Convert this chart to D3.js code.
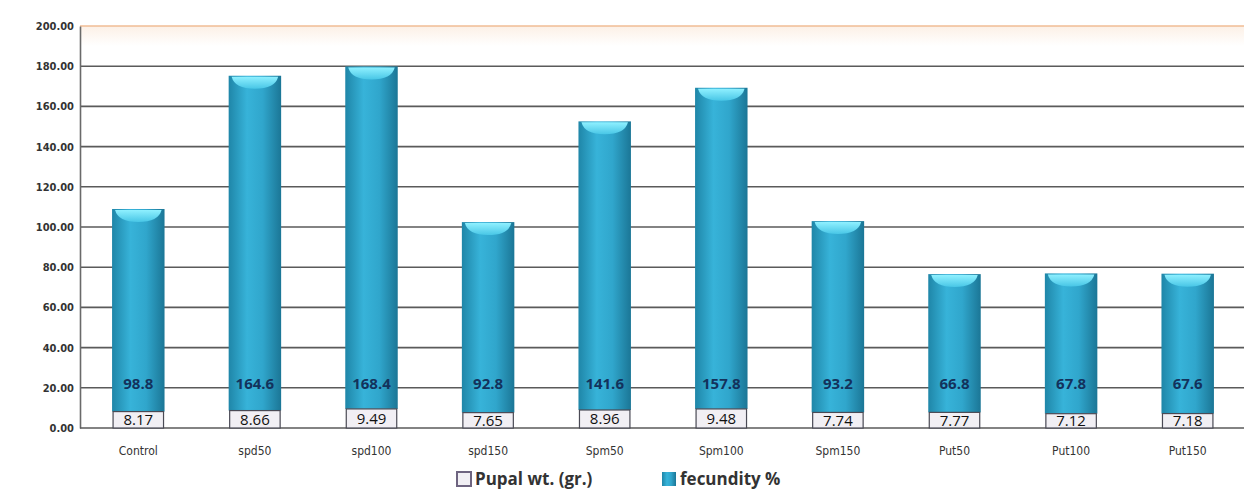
<!DOCTYPE html>
<html>
<head>
<meta charset="utf-8">
<script src="https://cdn.jsdelivr.net/npm/d3@7"></script>
<style>
  body { margin: 0; background: #fff; }
  svg { display: block; }
</style>
</head>
<body>
<div id="chart"></div>
<script>
// data
var categories = ["Control", "spd50", "spd100", "spd150", "Spm50", "Spm100", "Spm150", "Put50", "Put100", "Put150"];
var pupalWt = [8.17, 8.66, 9.49, 7.65, 8.96, 9.48, 7.74, 7.77, 7.12, 7.18];
var fecundity = [98.8, 164.6, 168.4, 92.8, 141.6, 157.8, 93.2, 66.8, 67.8, 67.6];
var yTicks = [0, 20, 40, 60, 80, 100, 120, 140, 160, 180, 200];
var seriesNames = ["Pupal wt. (gr.)", "fecundity %"];

var W = 1244, H = 494;
var svg = d3.select("#chart").append("svg")
    .attr("width", W)
    .attr("height", H);

var x = d3.scaleBand()
    .domain(categories)
    .range([80, 1246])
    .paddingInner(0.55)
    .paddingOuter(0.275);

var y = d3.scaleLinear()
    .domain([0, 200])
    .range([428, 26]);

var defs = svg.append("defs");

// cylinder body shading
var g1 = defs.append("linearGradient").attr("id", "body")
    .attr("x1", "0").attr("x2", "1").attr("y1", "0").attr("y2", "0");
g1.append("stop").attr("offset", "0%").attr("stop-color", "#1f86a8");
g1.append("stop").attr("offset", "35%").attr("stop-color", "#37b3d9");
g1.append("stop").attr("offset", "65%").attr("stop-color", "#30a6cc");
g1.append("stop").attr("offset", "100%").attr("stop-color", "#1b7696");

var g2 = defs.append("linearGradient").attr("id", "cap")
    .attr("x1", "0").attr("x2", "0").attr("y1", "0").attr("y2", "1");
g2.append("stop").attr("offset", "0%").attr("stop-color", "#8ff0ff");
g2.append("stop").attr("offset", "100%").attr("stop-color", "#48c6e6");

var g3 = defs.append("linearGradient").attr("id", "topband")
    .attr("x1", "0").attr("x2", "0").attr("y1", "0").attr("y2", "1");
g3.append("stop").attr("offset", "0%").attr("stop-color", "#fcf0e6");
g3.append("stop").attr("offset", "100%").attr("stop-color", "#ffffff");

// faint band under the top line
svg.append("rect")
    .attr("x", 81).attr("y", y(200))
    .attr("width", 1246 - 81).attr("height", y(190) - y(200))
    .attr("fill", "url(#topband)");

// gridlines
svg.append("g")
  .selectAll("line")
  .data(yTicks.filter(function(d) { return d > 0; }))
  .enter().append("line")
    .attr("x1", 80).attr("x2", 1246)
    .attr("y1", function(d) { return y(d); })
    .attr("y2", function(d) { return y(d); })
    .attr("stroke", function(d) { return d == 200 ? "#f1bd94" : "#5a5a5a"; })
    .attr("stroke-width", 1.6);

// y axis
var yAxis = d3.axisLeft(y)
    .tickValues(yTicks)
    .tickSize(0)
    .tickPadding(6)
    .tickFormat(d3.format(".2f"));

var ya = svg.append("g")
    .attr("transform", "translate(80,0)")
    .call(yAxis);
ya.select(".domain").attr("stroke", "#6a6a6a").attr("stroke-width", 1.6);
ya.selectAll("text")
    .attr("font-family", "Liberation Sans Narrow, DejaVu Sans Condensed, sans-serif")
    .attr("font-size", 11)
    .attr("font-weight", "bold")
    .attr("fill", "#333");

// baseline
svg.append("line")
    .attr("x1", 80).attr("x2", 1246)
    .attr("y1", y(0)).attr("y2", y(0))
    .attr("stroke", "#5a5a5a").attr("stroke-width", 1.6);

var bw = x.bandwidth();
var capH = 4;
var data = categories.map(function(c, i) {
  return { name: c, pupal: pupalWt[i], fec: fecundity[i] };
});

var bar = svg.selectAll(".bar")
    .data(data)
  .enter().append("g")
    .attr("class", "bar");

// fecundity body (top edge of the cylinder sits a little above the value)
bar.append("rect")
    .attr("x", function(d) { return x(d.name); })
    .attr("y", function(d) { return y(d.pupal + d.fec) - capH; })
    .attr("width", bw)
    .attr("height", function(d) { return y(d.pupal) - y(d.pupal + d.fec) + capH; })
    .attr("fill", "url(#body)");

// top cap highlight
bar.append("path")
    .attr("d", function(d) {
      var x0 = x(d.name), x1 = x0 + bw, yt = y(d.pupal + d.fec) - capH;
      return "M" + (x0 + 3) + "," + (yt + 1) +
             " L" + (x1 - 3) + "," + (yt + 1) +
             " Q" + (x1 - 6) + "," + (yt + 13) + " " + (x0 + bw / 2) + "," + (yt + 13) +
             " Q" + (x0 + 6) + "," + (yt + 13) + " " + (x0 + 3) + "," + (yt + 1) + "Z";
    })
    .attr("fill", "url(#cap)");

// pupal segment
bar.append("rect")
    .attr("x", function(d) { return x(d.name) + 1; })
    .attr("y", function(d) { return y(d.pupal); })
    .attr("width", bw - 2)
    .attr("height", function(d) { return y(0) - y(d.pupal); })
    .attr("fill", "#f1eff4")
    .attr("stroke", "#4a4a55")
    .attr("stroke-width", 1.2);

// labels
bar.append("text")
    .attr("x", function(d) { return x(d.name) + bw / 2; })
    .attr("y", y(22))
    .attr("dy", "0.35em")
    .attr("text-anchor", "middle")
    .attr("font-family", "Open Sans, sans-serif")
    .attr("font-size", 15)
    .attr("font-weight", "bold")
    .attr("fill", "#13325c")
    .text(function(d) { return d.fec; });

bar.append("text")
    .attr("x", function(d) { return x(d.name) + bw / 2; })
    .attr("y", function(d) { return (y(0) + y(d.pupal)) / 2; })
    .attr("dy", "0.36em")
    .attr("text-anchor", "middle")
    .attr("font-family", "Open Sans, sans-serif")
    .attr("font-size", 15)
    .attr("fill", "#111")
    .text(function(d) { return d3.format(".2f")(d.pupal); });

// x labels
svg.append("g")
  .selectAll("text")
  .data(categories)
  .enter().append("text")
    .attr("x", function(d) { return x(d) + bw / 2; })
    .attr("y", 455)
    .attr("text-anchor", "middle")
    .attr("font-family", "Liberation Sans Narrow, DejaVu Sans Condensed, sans-serif")
    .attr("font-size", 12)
    .attr("fill", "#333")
    .text(function(d) { return d; });

// legend
var legendX = [457, 662];
var legend = svg.selectAll(".legend")
    .data(seriesNames)
  .enter().append("g")
    .attr("class", "legend")
    .attr("transform", function(d, i) { return "translate(" + legendX[i] + ",472)"; });

legend.append("rect")
    .attr("width", 14).attr("height", 14)
    .attr("fill", function(d, i) { return i == 0 ? "#f1eff4" : "url(#body)"; })
    .attr("stroke", function(d, i) { return i == 0 ? "#6e6480" : "none"; })
    .attr("stroke-width", 2);

legend.append("text")
    .attr("x", 18)
    .attr("y", 13)
    .attr("font-family", "Open Sans, sans-serif")
    .attr("font-size", 17)
    .attr("font-weight", "bold")
    .attr("fill", "#333")
    .text(function(d) { return d; });
</script>
</body>
</html>
